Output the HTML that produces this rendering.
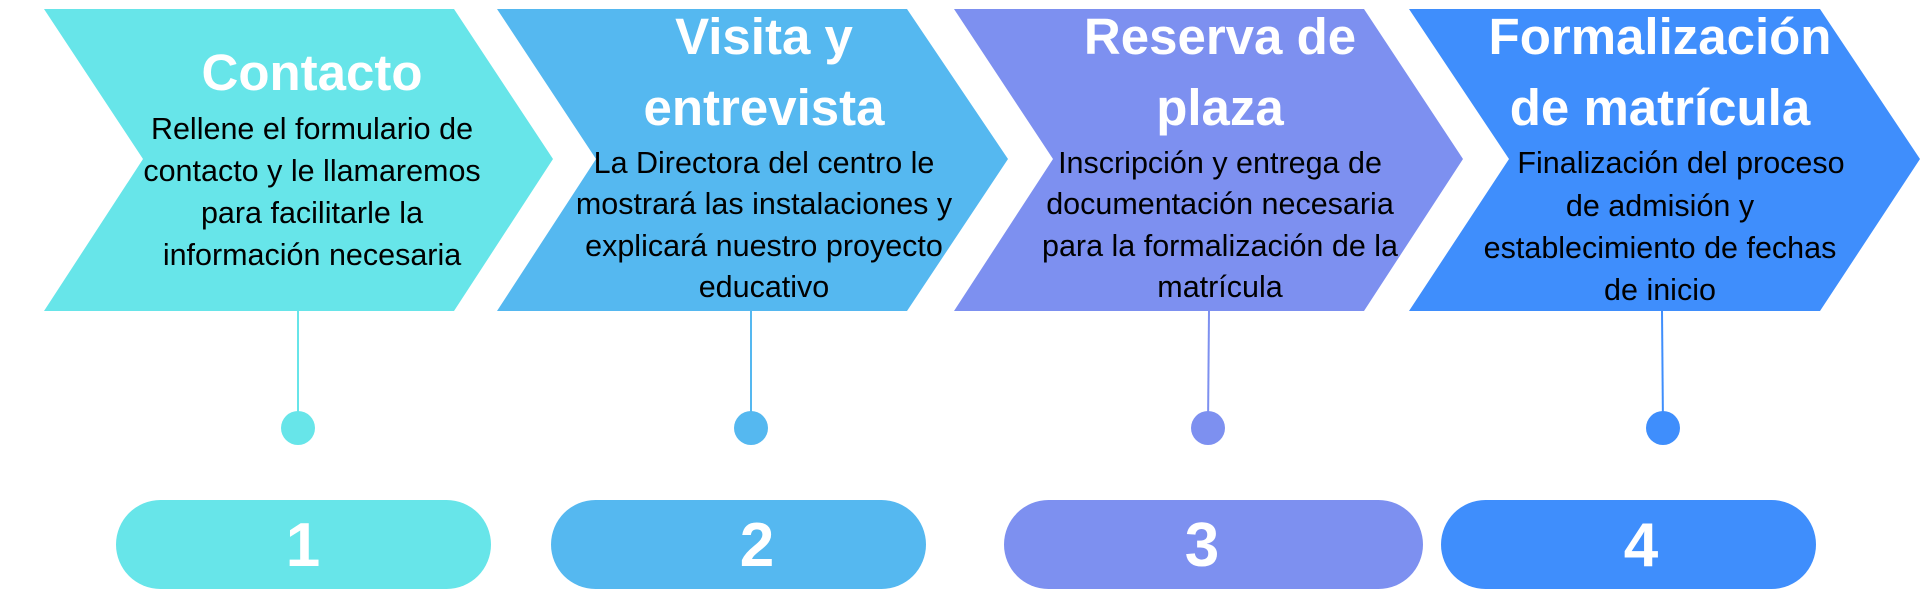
<!DOCTYPE html>
<html><head><meta charset="utf-8"><style>
html,body{margin:0;padding:0;background:#fff;width:1920px;height:601px;overflow:hidden}
svg{display:block}
.t{font-family:"Liberation Sans",sans-serif;font-weight:bold;fill:#fff;font-size:51px}
.b{font-family:"Liberation Sans",sans-serif;fill:#000;font-size:30.5px}
.n{font-family:"Liberation Sans",sans-serif;font-weight:bold;fill:#fff;font-size:62px}
</style></head><body>
<svg width="1920" height="601" viewBox="0 0 1920 601">
<polygon points="44,9 454,9 553,159 454,311 44,311 143,159" fill="#67e5e9"/>
<polygon points="497,9 907,9 1008,159 907,311 497,311 596,159" fill="#55b8f0"/>
<polygon points="954,9 1364,9 1463,159 1364,311 954,311 1053,159" fill="#7d90f0"/>
<polygon points="1409,9 1820,9 1920,159 1820,311 1409,311 1509,159" fill="#3f8efc"/>
<line x1="298" y1="311" x2="298" y2="427" stroke="#67e5e9" stroke-width="2"/>
<line x1="751" y1="311" x2="751" y2="427" stroke="#55b8f0" stroke-width="2"/>
<line x1="1209" y1="311" x2="1208" y2="427" stroke="#7d90f0" stroke-width="2"/>
<line x1="1662" y1="311" x2="1663" y2="427" stroke="#3f8efc" stroke-width="2"/>
<circle cx="298" cy="428" r="17" fill="#67e5e9"/>
<circle cx="751" cy="428" r="17" fill="#55b8f0"/>
<circle cx="1208" cy="428" r="17" fill="#7d90f0"/>
<circle cx="1663" cy="428" r="17" fill="#3f8efc"/>
<rect x="116" y="500" width="375" height="89" rx="44.5" fill="#67e5e9"/>
<rect x="551" y="500" width="375" height="89" rx="44.5" fill="#55b8f0"/>
<rect x="1004" y="500" width="419" height="89" rx="44.5" fill="#7d90f0"/>
<rect x="1441" y="500" width="375" height="89" rx="44.5" fill="#3f8efc"/>
<g text-anchor="middle">
<text class="n" x="303" y="566">1</text>
<text class="n" x="757" y="566">2</text>
<text class="n" x="1202" y="566">3</text>
<text class="n" x="1641" y="566">4</text>
<text class="t" x="312" y="90">Contacto</text>
<text class="b" x="312" y="139">Rellene el formulario de</text>
<text class="b" x="312" y="181">contacto y le llamaremos</text>
<text class="b" x="312" y="223">para facilitarle la</text>
<text class="b" x="312" y="265">información necesaria</text>
<text class="t" x="764" y="54">Visita y</text>
<text class="t" x="764" y="125">entrevista</text>
<text class="b" x="764" y="173">La Directora del centro le</text>
<text class="b" x="764" y="214">mostrará las instalaciones y</text>
<text class="b" x="764" y="256">explicará nuestro proyecto</text>
<text class="b" x="764" y="297">educativo</text>
<text class="t" x="1220" y="54">Reserva de</text>
<text class="t" x="1220" y="125">plaza</text>
<text class="b" x="1220" y="173">Inscripción y entrega de</text>
<text class="b" x="1220" y="214">documentación necesaria</text>
<text class="b" x="1220" y="256">para la formalización de la</text>
<text class="b" x="1220" y="297">matrícula</text>
<text class="t" x="1660" y="54">Formalización</text>
<text class="t" x="1660" y="125">de matrícula</text>
<text class="b" x="1681" y="173">Finalización del proceso</text>
<text class="b" x="1660" y="216">de admisión y</text>
<text class="b" x="1660" y="258">establecimiento de fechas</text>
<text class="b" x="1660" y="300">de inicio</text>
</g>
</svg>
</body></html>
